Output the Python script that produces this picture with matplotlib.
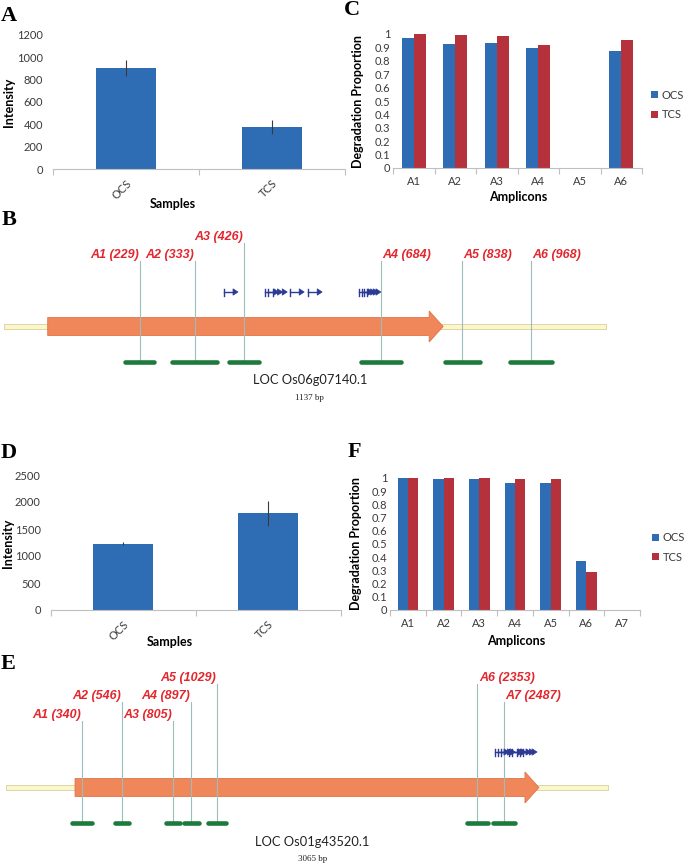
import matplotlib
matplotlib.use("Agg")
import matplotlib.pyplot as plt
import matplotlib.transforms as mtransforms
from matplotlib.patches import Rectangle, Polygon
from matplotlib.ticker import FuncFormatter
import numpy as np

plt.rcParams["font.family"] = ["Lato", "DejaVu Sans"]

# ---------------- data ----------------
samples = ["OCS", "TCS"]
intensity_a = [902, 375]
intensity_a_err = [70, 65]
intensity_d = [1230, 1790]
intensity_d_err = [30, 230]

amplicons_c = ["A1", "A2", "A3", "A4", "A5", "A6"]
ocs_c = [0.970, 0.928, 0.933, 0.893, 0.0, 0.871]
tcs_c = [0.998, 0.990, 0.988, 0.920, 0.0, 0.958]

amplicons_f = ["A1", "A2", "A3", "A4", "A5", "A6", "A7"]
ocs_f = [0.998, 0.990, 0.993, 0.960, 0.960, 0.372, 0.0]
tcs_f = [1.000, 1.000, 1.000, 0.995, 0.993, 0.290, 0.0]

gene_b = "LOC Os06g07140.1"
len_b = 1137
start_b = -28
cds_b = [55, 802]
amp_pos_b = [229, 333, 426, 684, 838, 968]
amp_len_b = [55, 85, 57, 76, 66, 81]
sites_b = [388, 465, 472, 481, 513, 547, 643, 648, 653, 658]

gene_e = "LOC Os01g43520.1"
len_e = 3065
start_e = -45
cds_e = [306, 2667]
amp_pos_e = [340, 546, 805, 897, 1029, 2353, 2487]
amp_len_e = [102, 71, 71, 76, 92, 107, 112]
sites_e = [2443, 2460, 2475, 2515, 2530, 2555, 2572, 2586]

# ---------------- figure ----------------
W, H = 685, 865
fig = plt.figure(figsize=(W / 100, H / 100), dpi=100)
pxT = mtransforms.Affine2D().scale(1 / W, -1 / H).translate(0, 1) + fig.transFigure

BLUE = "#2e6db4"
RED = "#b5313c"
GRAY = "#3a3a3a"


def px_axes(left, top, right, bottom):
    return fig.add_axes([left / W, 1 - bottom / H, (right - left) / W, (bottom - top) / H])


def excel_axes(ax, labels):
    n = len(labels)
    for s in ("top", "right", "left"):
        ax.spines[s].set_visible(False)
    ax.spines["bottom"].set_color("#bfbfbf")
    ax.spines["bottom"].set_linewidth(0.8)
    ax.set_xlim(-0.5, n - 0.5)
    ax.set_xticks(range(n))
    ax.set_xticklabels(labels)
    ax.set_xticks(np.arange(-0.5, n), minor=True)
    ax.tick_params(axis="x", which="major", length=0, labelsize=8, labelcolor=GRAY)
    ax.tick_params(axis="x", which="minor", length=4, color="#bfbfbf", width=0.8)
    ax.tick_params(axis="y", length=0, labelsize=8, labelcolor=GRAY)


def label_at(axis, text, x, y, rot=0):
    if rot:
        axis.axes.set_ylabel(text, fontsize=9, fontweight="bold")
    else:
        axis.axes.set_xlabel(text, fontsize=9, fontweight="bold")
    axis.set_label_coords(x, y, transform=pxT)
    axis.label.set_va("center")
    axis.label.set_ha("center")


def intensity_panel(rect, vals, errs, ymax, step, ylab_xy, xlab_xy):
    ax = px_axes(*rect)
    x = np.arange(len(samples))
    ax.bar(x, vals, width=0.41, color=BLUE, zorder=2)
    ax.errorbar(x, vals, yerr=errs, fmt="none", ecolor=GRAY, elinewidth=0.8, capsize=0, zorder=3)
    excel_axes(ax, samples)
    ax.set_ylim(0, ymax)
    ax.set_yticks(np.arange(0, ymax + 1, step))
    ax.tick_params(axis="y", pad=7)
    for t in ax.get_xticklabels():
        t.set_rotation(45)
        t.set_ha("right")
        t.set_rotation_mode("anchor")
    ax.tick_params(axis="x", which="major", pad=6)
    label_at(ax.yaxis, "Intensity", *ylab_xy, rot=90)
    label_at(ax.xaxis, "Samples", *xlab_xy)
    return ax


def degradation_panel(rect, labels, ocs, tcs, ylab_xy, xlab_xy, leg_xy):
    ax = px_axes(*rect)
    x = np.arange(len(labels))
    w = 0.29
    ax.bar(x - w / 2, ocs, width=w, color=BLUE, label="OCS", zorder=2)
    ax.bar(x + w / 2, tcs, width=w, color=RED, label="TCS", zorder=2)
    excel_axes(ax, labels)
    ax.set_ylim(0, 1)
    ax.set_yticks(np.round(np.arange(0, 1.01, 0.1), 1))
    ax.yaxis.set_major_formatter(FuncFormatter(lambda v, p: "%g" % v))
    ax.tick_params(axis="y", pad=2)
    ax.tick_params(axis="x", which="major", pad=6)
    label_at(ax.yaxis, "Degradation Proportion", *ylab_xy, rot=90)
    label_at(ax.xaxis, "Amplicons", *xlab_xy)
    ax.legend(loc="center left", bbox_to_anchor=leg_xy, bbox_transform=pxT,
              frameon=False, fontsize=8, handlelength=0.6, handleheight=0.6,
              handletextpad=0.35, labelspacing=0.75, borderpad=0, borderaxespad=0,
              labelcolor=GRAY)
    return ax


def gene_panel(rows, xlim, gene, glen, start, cds, pos, alen, sites, tiers, right_side,
               tier_tops, y_back, y_site, y_amp, y_name, y_bp):
    ax = px_axes(0, rows[0], W, rows[1])
    ax.set_xlim(*xlim)
    ax.set_ylim(rows[1], rows[0])
    ax.axis("off")
    k = (xlim[1] - xlim[0]) / W  # bp per pixel

    ax.add_patch(Rectangle((start, y_back - 2.5), glen, 5, facecolor="#fbf6cb",
                           edgecolor="#d9d09a", lw=0.6, zorder=1))
    head = 14 * k
    body = [(cds[0], y_back - 9), (cds[1] - head, y_back - 9), (cds[1] - head, y_back - 15.5),
            (cds[1], y_back), (cds[1] - head, y_back + 15.5), (cds[1] - head, y_back + 9),
            (cds[0], y_back + 9)]
    ax.add_patch(Polygon(body, closed=True, facecolor="#f0875b", edgecolor="#e07448",
                         lw=0.6, zorder=2))

    for i, (p, L, t, r) in enumerate(zip(pos, alen, tiers, right_side)):
        top = tier_tops[t]
        ax.plot([p, p], [top, y_amp], color="#9dbdbd", lw=0.8, zorder=3)
        ax.plot([p - L / 2, p + L / 2], [y_amp, y_amp], color="#1b7a3c", lw=3.3,
                solid_capstyle="round", zorder=4)
        name = "A%d (%d)" % (i + 1, p)
        ax.text(p + (1.5 * k if r else -1 * k), top - 3, name, ha="left" if r else "right",
                va="baseline", color="#e3262c", fontsize=9, fontweight="bold",
                fontstyle="italic", family=["Liberation Sans Narrow", "Liberation Sans"])

    gl = 14 * k
    ah = 5 * k
    for s in sites:
        ax.plot([s, s], [y_site - 3.5, y_site + 3.5], color="#2b3a95", lw=1.0, zorder=5)
        ax.plot([s, s + gl - ah], [y_site, y_site], color="#2b3a95", lw=1.0, zorder=5)
        ax.add_patch(Polygon([(s + gl - ah, y_site - 3.2), (s + gl, y_site),
                              (s + gl - ah, y_site + 3.2)], closed=True,
                             facecolor="#2b3a95", edgecolor="#2b3a95", lw=0.5, zorder=5))

    mid = start + glen / 2 + 5 * k
    ax.text(mid, y_name, gene, ha="center", va="center", fontsize=9.3, color="#222222")
    ax.text(mid, y_bp, "%d bp" % glen, ha="center", va="center", fontsize=6.5,
            family="Liberation Serif", color="#222222")
    return ax


# panel A
intensity_panel((53, 35, 345, 169), intensity_a, intensity_a_err, 1200, 200,
                (9.5, 102), (173, 204))
# panel C
degradation_panel((393, 34, 642, 168), amplicons_c, ocs_c, tcs_c,
                  (358, 101), (518, 197), (651, 105))
# panel D
intensity_panel((50.5, 475, 340.5, 610), intensity_d, intensity_d_err, 2500, 500,
                (8, 543), (170, 642))
# panel F
degradation_panel((390, 478, 640, 610), amplicons_f, ocs_f, tcs_f,
                  (356, 544), (516, 641), (652, 547.5))

# panel B
gene_panel((200, 410), (-35.1, 1258.8), gene_b, len_b, start_b, cds_b, amp_pos_b, amp_len_b,
           sites_b, [0, 0, 1, 0, 0, 0], [False, False, False, True, True, True],
           [261, 243], 326.5, 292, 362, 380, 398)
# panel E
gene_panel((650, 865), (-75.8, 3410.2), gene_e, len_e, start_e, cds_e, amp_pos_e, amp_len_e,
           sites_e, [0, 1, 0, 1, 2, 2, 1], [False] * 5 + [True] * 2,
           [721, 702, 684], 787.5, 752, 823, 842, 859)

# panel letters
for letter, x, y in [("A", 9, 16), ("C", 352, 10), ("B", 9, 220),
                     ("D", 9, 453), ("F", 354, 452), ("E", 8, 664)]:
    fig.text(x, y, letter, transform=pxT, ha="center", va="center", fontsize=16,
             fontweight="bold", family="Liberation Serif")

fig.savefig("out.png", dpi=100)
